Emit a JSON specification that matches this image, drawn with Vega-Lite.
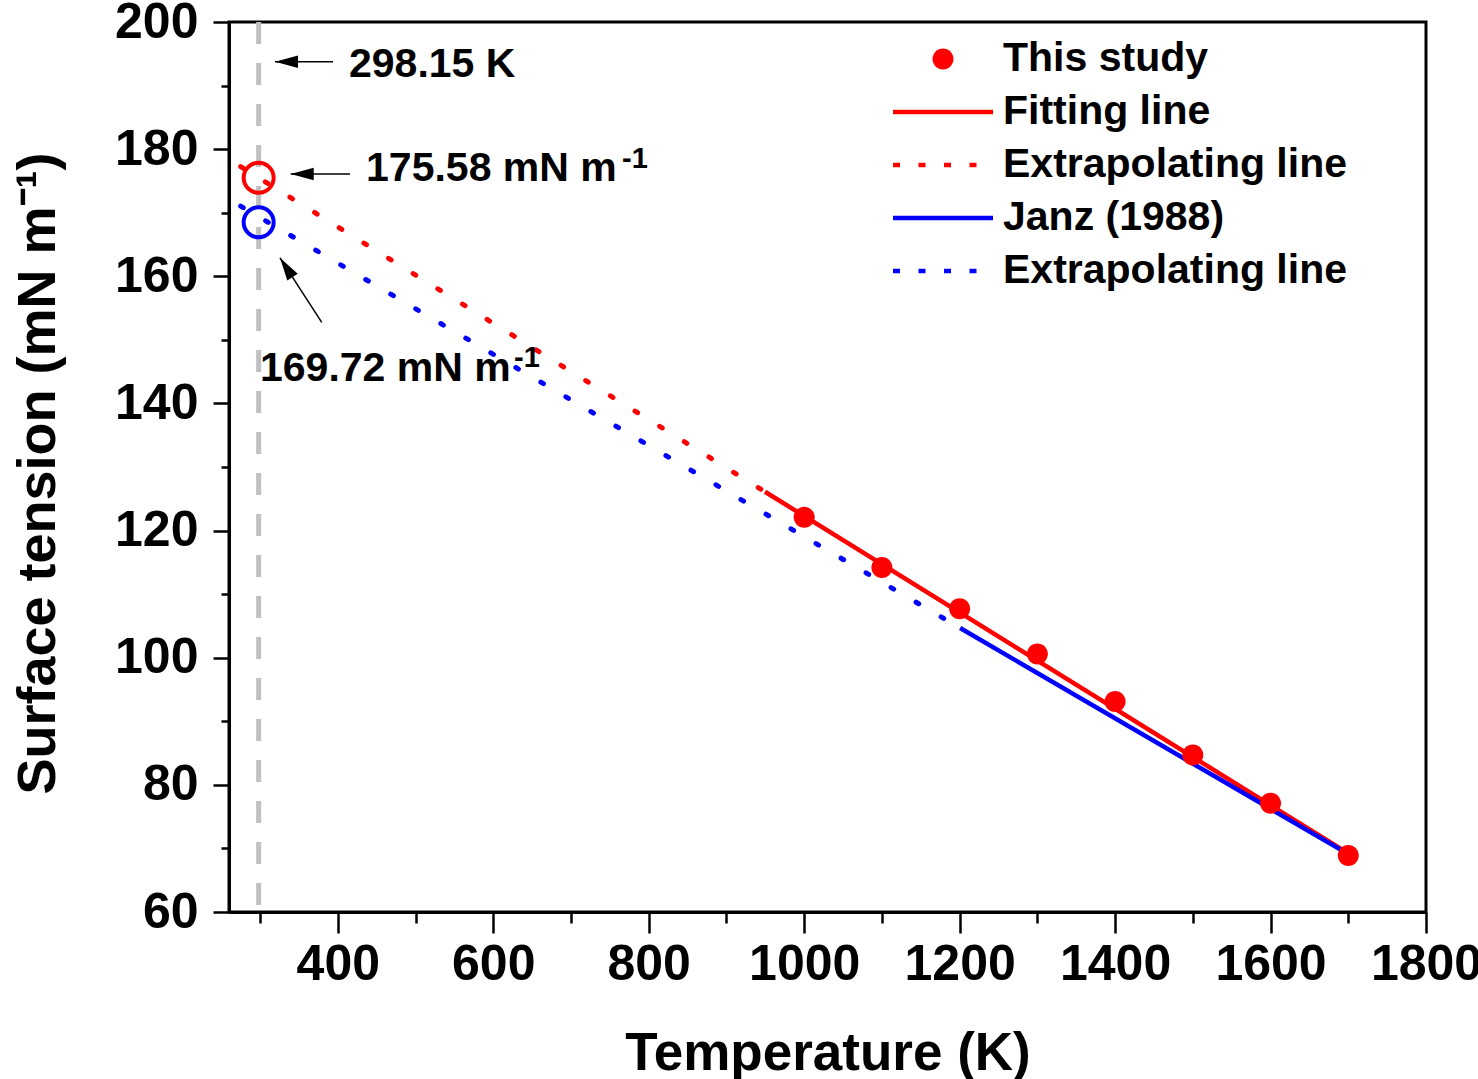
{
  "$schema": "https://vega.github.io/schema/vega-lite/v6.json",
  "width": 1197,
  "height": 890,
  "autosize": {"type": "none"},
  "padding": {"left": 229, "top": 22, "right": 52, "bottom": 167},
  "background": "white",
  "config": {
    "font": "Liberation Sans",
    "view": {"stroke": "black", "strokeWidth": 3},
    "axis": {
      "grid": false,
      "domainColor": "black",
      "domainWidth": 3,
      "tickColor": "black",
      "tickWidth": 2.5,
      "labelFont": "Liberation Sans",
      "labelFontWeight": "bold",
      "labelFontSize": 50,
      "labelColor": "black",
      "titleFont": "Liberation Sans",
      "titleFontWeight": "bold",
      "titleColor": "black"
    }
  },
  "datasets": {
    "study": [
      {"series": "This study", "T": 1000, "v": 122.1},
      {"series": "This study", "T": 1100, "v": 114.2},
      {"series": "This study", "T": 1200, "v": 107.7},
      {"series": "This study", "T": 1300, "v": 100.6},
      {"series": "This study", "T": 1400, "v": 93.1},
      {"series": "This study", "T": 1500, "v": 84.7},
      {"series": "This study", "T": 1600, "v": 77.1},
      {"series": "This study", "T": 1700, "v": 68.9}
    ],
    "lines": [
      {"series": "Fitting extrapolation", "T": 275, "v": 177.25},
      {"series": "Fitting extrapolation", "T": 949.6, "v": 126.11},
      {"series": "Janz extrapolation", "T": 275, "v": 171.03},
      {"series": "Janz extrapolation", "T": 1200.6, "v": 104.67},
      {"series": "Fitting line", "T": 949.6, "v": 126.11},
      {"series": "Fitting line", "T": 1700, "v": 69.23},
      {"series": "Janz (1988)", "T": 1200.6, "v": 104.67},
      {"series": "Janz (1988)", "T": 1700, "v": 69.1}
    ],
    "at298": [
      {"series": "Fitting line", "T": 298.15, "v": 175.5},
      {"series": "Janz (1988)", "T": 298.15, "v": 168.5}
    ],
    "arrows": [
      {"T": 393.8, "v": 193.75, "T2": 319.2, "v2": 193.75},
      {"T": 415.7, "v": 176.1, "T2": 339.4, "v2": 176.1},
      {"T": 379.3, "v": 152.75, "T2": 325.6, "v2": 162.9}
    ],
    "notes": [
      {"T": 414.4, "v": 191.4, "text": "298.15 K"},
      {"T": 436.3, "v": 174.93, "text": "175.58 mN m"},
      {"T": 299.9, "v": 143.46, "text": "169.72 mN m"}
    ],
    "sups": [
      {"T": 765.7, "v": 177.08, "text": "-1"},
      {"T": 626.7, "v": 145.78, "text": "-1"}
    ]
  },
  "layer": [
    {
      "data": {"values": [{"T": 298.15}]},
      "mark": {"type": "rule", "color": "#c0c0c0", "strokeWidth": 5, "strokeDash": [22, 19]},
      "encoding": {
        "x": {"field": "T", "type": "quantitative", "scale": {"domain": [260, 1800], "nice": false, "zero": false}}
      }
    },
    {
      "data": {"name": "lines"},
      "transform": [{"filter": "indexof(datum.series, 'extrapolation') >= 0"}],
      "mark": {"type": "line", "strokeWidth": 5, "strokeDash": [3, 26], "strokeCap": "round"},
      "encoding": {
        "x": {
          "field": "T",
          "type": "quantitative",
          "scale": {"domain": [260, 1800], "nice": false, "zero": false},
          "axis": {
            "title": "Temperature (K)",
            "titleFontSize": 53,
            "titleBaseline": "alphabetic",
            "titleY": 157,
            "values": [300, 400, 500, 600, 700, 800, 900, 1000, 1100, 1200, 1300, 1400, 1500, 1600, 1700, 1800],
            "format": "d",
            "labelExpr": "datum.value % 200 === 0 ? datum.label : ''",
            "tickSize": {"condition": {"test": "datum.value % 200 === 0", "value": 21}, "value": 11},
            "labelPadding": 6,
            "labelFlush": false,
            "labelOverlap": false
          }
        },
        "y": {
          "field": "v",
          "type": "quantitative",
          "scale": {"domain": [60, 200], "nice": false, "zero": false},
          "axis": {
            "title": "Surface tension (mN m⁻¹)",
            "titleFontSize": 54,
            "titleBaseline": "alphabetic",
            "titleX": -175,
            "titleY": 451,
            "values": [60, 70, 80, 90, 100, 110, 120, 130, 140, 150, 160, 170, 180, 190, 200],
            "format": "d",
            "labelExpr": "datum.value % 20 === 0 ? datum.label : ''",
            "tickSize": {"condition": {"test": "datum.value % 20 === 0", "value": 16}, "value": 8},
            "labelPadding": 15,
            "labelFlush": false,
            "labelOverlap": false
          }
        },
        "detail": {"field": "series"},
        "color": {"condition": {"test": "datum.series === 'Janz extrapolation'", "value": "#0000ff"}, "value": "#ff0000"}
      }
    },
    {
      "data": {"name": "lines"},
      "transform": [{"filter": "indexof(datum.series, 'extrapolation') < 0"}],
      "mark": {"type": "line", "strokeWidth": 4.5},
      "encoding": {
        "x": {"field": "T", "type": "quantitative"},
        "y": {"field": "v", "type": "quantitative"},
        "detail": {"field": "series"},
        "color": {"condition": {"test": "datum.series === 'Janz (1988)'", "value": "#0000ff"}, "value": "#ff0000"}
      }
    },
    {
      "data": {"name": "study"},
      "mark": {"type": "point", "filled": true, "opacity": 1, "size": 10000},
      "encoding": {
        "x": {"field": "T", "type": "quantitative"},
        "y": {"field": "v", "type": "quantitative"},
        "color": {
          "field": "series",
          "type": "nominal",
          "scale": {
            "domain": ["This study", "Fitting line", "Extrapolating line", "Janz (1988)", "Extrapolating line "],
            "range": ["#ff0000", "#ff0000", "#ff0000", "#0000ff", "#0000ff"]
          },
          "legend": {
            "title": null,
            "orient": "none",
            "legendX": 664,
            "legendY": 17,
            "padding": 0,
            "symbolSize": 10000,
            "clipHeight": 40,
            "symbolStrokeWidth": 0,
            "symbolOpacity": 1,
            "labelFont": "Liberation Sans",
            "labelFontWeight": "bold",
            "labelFontSize": 41,
            "labelColor": "black",
            "labelOffset": 10,
            "labelLimit": 800,
            "rowPadding": 12
          }
        },
        "shape": {
          "field": "series",
          "type": "nominal",
          "scale": {
            "domain": ["This study", "Fitting line", "Extrapolating line", "Janz (1988)", "Extrapolating line "],
            "range": [
              "M-0.21,0A0.21,0.21,0,1,0,0.21,0A0.21,0.21,0,1,0,-0.21,0Z",
              "M-1,-0.045H1V0.045H-1Z",
              "M-1,-0.045h0.14v0.09h-0.14Z M-0.49,-0.045h0.14v0.09h-0.14Z M0.02,-0.045h0.14v0.09h-0.14Z M0.53,-0.045h0.14v0.09h-0.14Z",
              "M-1,-0.045H1V0.045H-1Z",
              "M-1,-0.045h0.14v0.09h-0.14Z M-0.49,-0.045h0.14v0.09h-0.14Z M0.02,-0.045h0.14v0.09h-0.14Z M0.53,-0.045h0.14v0.09h-0.14Z"
            ]
          },
          "legend": {
            "title": null,
            "orient": "none",
            "legendX": 664,
            "legendY": 17,
            "padding": 0,
            "symbolSize": 10000,
            "clipHeight": 40,
            "symbolStrokeWidth": 0,
            "symbolOpacity": 1,
            "labelFont": "Liberation Sans",
            "labelFontWeight": "bold",
            "labelFontSize": 41,
            "labelColor": "black",
            "labelOffset": 10,
            "labelLimit": 800,
            "rowPadding": 12
          }
        }
      }
    },
    {
      "data": {"name": "at298"},
      "mark": {"type": "point", "filled": false, "opacity": 1, "size": 900, "strokeWidth": 4},
      "encoding": {
        "x": {"field": "T", "type": "quantitative"},
        "y": {"field": "v", "type": "quantitative"},
        "color": {"condition": {"test": "datum.series === 'Janz (1988)'", "value": "#0000ff"}, "value": "#ff0000"}
      }
    },
    {
      "data": {"name": "arrows"},
      "mark": {"type": "rule", "color": "black", "strokeWidth": 1.5},
      "encoding": {
        "x": {"field": "T", "type": "quantitative"},
        "y": {"field": "v", "type": "quantitative"},
        "x2": {"field": "T2"},
        "y2": {"field": "v2"}
      }
    },
    {
      "data": {"name": "arrows"},
      "mark": {"type": "point", "filled": true, "opacity": 1, "color": "black", "size": 2116, "shape": "M0,0L-0.27,1L0.27,1Z"},
      "encoding": {
        "x": {"field": "T2", "type": "quantitative"},
        "y": {"field": "v2", "type": "quantitative"},
        "angle": {"condition": {"test": "datum.v2 !== datum.v", "value": 327}, "value": 270}
      }
    },
    {
      "data": {"name": "notes"},
      "mark": {"type": "text", "font": "Liberation Sans", "fontWeight": "bold", "fontSize": 41, "color": "black", "align": "left", "baseline": "alphabetic"},
      "encoding": {
        "x": {"field": "T", "type": "quantitative"},
        "y": {"field": "v", "type": "quantitative"},
        "text": {"field": "text"}
      }
    },
    {
      "data": {"name": "sups"},
      "mark": {"type": "text", "font": "Liberation Sans", "fontWeight": "bold", "fontSize": 29, "color": "black", "align": "left", "baseline": "alphabetic"},
      "encoding": {
        "x": {"field": "T", "type": "quantitative"},
        "y": {"field": "v", "type": "quantitative"},
        "text": {"field": "text"}
      }
    }
  ]
}
